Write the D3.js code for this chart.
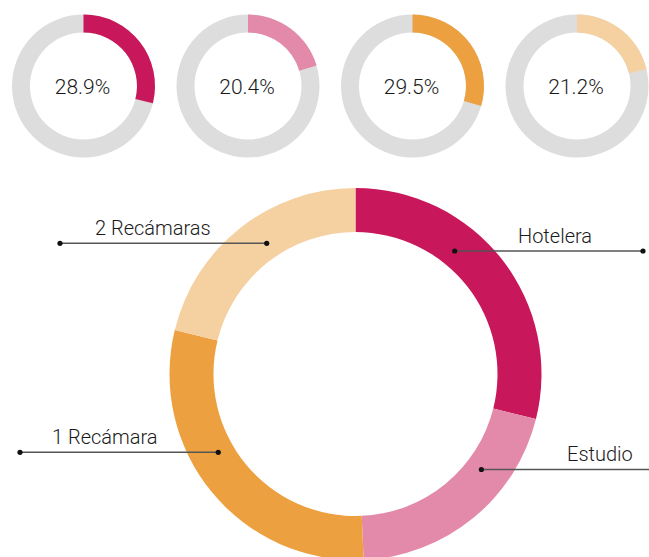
<!DOCTYPE html>
<html><head><meta charset="utf-8">
<script src="https://cdn.jsdelivr.net/npm/d3@7"></script>
<style>
html,body{margin:0;padding:0;background:#fff;overflow:hidden}
svg{display:block}
text{font-family:Roboto,"Open Sans",sans-serif;font-weight:300;fill:#1a1a1a}
</style></head>
<body>
<svg id="chart" width="649" height="557"></svg>
<script>
const categories = ["Hotelera", "Estudio", "1 Recámara", "2 Recámaras"];
const values = [28.9, 20.4, 29.5, 21.2];
const valueLabels = ["28.9%", "20.4%", "29.5%", "21.2%"];
const colors = ["#c8175a", "#e389aa", "#eda03f", "#f5d0a0"];
const trackColor = "#dcdddc";

// annotation layout (leader lines)
const labelLineY = [251, 469.5, 452.3, 243.3];
const labelOuterX = [643, 670, 20, 60];
const labelTextX = [518, 567, 52, 95];

const W = 649, H = 557;
const svg = d3.select("#chart");

// small donuts
const smallX = d3.scalePoint().domain(categories).range([83.5, 577]);
const smallCY = 86, smallR = 71.5, smallInner = 53.5;
const pctScale = d3.scaleLinear().domain([0, 100]).range([0, 2 * Math.PI]);
const smallArc = d3.arc().innerRadius(smallInner).outerRadius(smallR);

categories.forEach((c, i) => {
  const g = svg.append("g").attr("transform", `translate(${smallX(c)},${smallCY})`);
  g.append("path").attr("d", smallArc({startAngle: 0, endAngle: 2 * Math.PI})).attr("fill", trackColor);
  g.append("path").attr("d", smallArc({startAngle: 0, endAngle: pctScale(values[i])})).attr("fill", colors[i]);
  g.append("text").attr("text-anchor", "middle").attr("x", -1).attr("y", 8).attr("font-size", 21).text(valueLabels[i]);
});

// big donut
const bigCX = 355.5, bigCY = 374, bigR = 186, bigInner = 142;
const pie = d3.pie().sort(null).value(d => d.v);
const arcs = pie(categories.map((c, i) => ({c, v: values[i], col: colors[i]})));
const bigArc = d3.arc().innerRadius(bigInner).outerRadius(bigR);
const big = svg.append("g").attr("transform", `translate(${bigCX},${bigCY})`);
big.selectAll("path").data(arcs).join("path").attr("d", bigArc).attr("fill", d => d.data.col);

// leader lines
const dotR = 158;
const ann = svg.append("g");
arcs.forEach((a, i) => {
  const y = labelLineY[i];
  const dy = y - bigCY;
  const dx = Math.sqrt(dotR * dotR - dy * dy);
  const mid = (a.startAngle + a.endAngle) / 2;
  const right = Math.sin(mid) > 0;
  const xIn = bigCX + (right ? dx : -dx);
  const xOut = labelOuterX[i];
  ann.append("line").attr("x1", xIn).attr("x2", xOut).attr("y1", y).attr("y2", y)
    .attr("stroke", "#555").attr("stroke-width", 1.4);
  ann.append("circle").attr("cx", xIn).attr("cy", y).attr("r", 2.6).attr("fill", "#111");
  ann.append("circle").attr("cx", xOut).attr("cy", y).attr("r", 2.6).attr("fill", "#111");
  ann.append("text").attr("x", labelTextX[i]).attr("y", y - 8.5).attr("font-size", 20).text(categories[i]);
});
</script>
</body></html>
